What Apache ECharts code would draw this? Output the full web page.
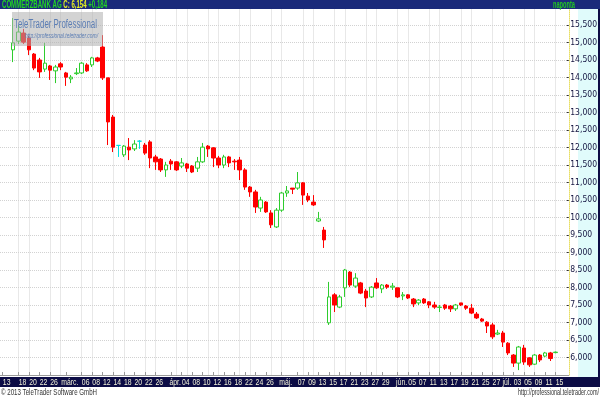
<!DOCTYPE html>
<html><head><meta charset="utf-8">
<script src="https://cdn.jsdelivr.net/npm/echarts@6/dist/echarts.min.js"></script>
<style>html,body{margin:0;padding:0;background:#fff}#c{width:600px;height:400px}</style>
</head><body><div id="c"></div>
<script>
// ---- DATA ----
const dates = [
'02-13','02-14','02-15','02-18','02-19','02-20','02-21','02-22','02-25','02-26','02-27','02-28',
'03-01','03-04','03-05','03-06','03-07','03-08','03-11','03-12','03-13','03-14','03-15','03-18','03-19','03-20','03-21','03-22','03-25','03-26','03-27','03-28',
'04-02','04-03','04-04','04-05','04-08','04-09','04-10','04-11','04-12','04-15','04-16','04-17','04-18','04-19','04-22','04-23','04-24','04-25','04-26','04-29','04-30',
'05-02','05-03','05-06','05-07','05-08','05-09','05-10','05-13','05-14','05-15','05-16','05-17','05-20','05-21','05-22','05-23','05-24','05-27','05-28','05-29','05-30','05-31',
'06-03','06-04','06-05','06-06','06-07','06-10','06-11','06-12','06-13','06-14','06-17','06-18','06-19','06-20','06-21','06-24','06-25','06-26','06-27','06-28',
'07-01','07-02','07-03','07-04','07-05','07-08','07-09','07-10','07-11','07-12','07-15','07-16','07-17'];
const firstCandleDate = '02-15';
const tickDates = ['02-13','02-18','02-20','02-22','02-26','03-01','03-06','03-08','03-12','03-14','03-18','03-20','03-22','03-26',
'04-02','04-04','04-08','04-10','04-12','04-16','04-18','04-22','04-24','04-26','05-02','05-07','05-09','05-13','05-15','05-17',
'05-21','05-23','05-27','05-29','06-03','06-05','06-07','06-11','06-13','06-17','06-19','06-21','06-25','06-27','07-01','07-03',
'07-05','07-09','07-11','07-15'];
const gridDates = ['02-18','02-20','02-26','02-28','03-06','03-08','03-14','03-18','03-22','03-26','04-03','04-05','04-11','04-15',
'04-19','04-23','04-29','05-02','05-08','05-10','05-16','05-20','05-24','05-28','06-03','06-05','06-11','06-13','06-19','06-21',
'06-27','07-01','07-05','07-09','07-15'];
const monthNames = {'03':'márc.','04':'ápr.','05':'máj.','06':'jún.','07':'júl.'};
const openP = [14.79,15.04,15.27,15.13,14.67,14.50,14.24,14.33,14.19,14.39,14.13,13.96,14.11,14.13,14.36,14.36,14.56,14.87,13.99,12.87,
12.06,11.79,12.01,11.96,12.18,12.07,12.16,11.73,11.67,11.36,11.61,11.59,11.47,11.53,11.47,11.41,11.59,12.04,11.99,11.70,
11.50,11.73,11.61,11.64,11.36,10.87,10.73,10.27,10.44,10.13,9.73,10.21,10.70,10.84,10.84,10.99,10.61,10.44,9.90,9.64,
6.99,7.79,7.44,7.99,8.44,8.04,8.13,7.90,7.73,8.13,7.96,8.07,8.01,7.99,7.76,7.79,7.67,7.56,7.67,7.59,
7.50,7.43,7.50,7.47,7.39,7.56,7.47,7.41,7.24,7.10,7.01,6.93,6.67,6.70,6.41,6.07,5.84,6.27,5.99,5.81,
6.07,6.04,6.13,6.14];
const closeP = [14.99,15.30,15.01,14.79,14.27,14.16,14.41,14.21,14.30,14.30,14.01,14.01,14.13,14.41,14.19,14.56,14.47,13.99,12.73,12.01,
12.06,12.04,11.93,12.10,12.18,11.84,11.70,11.59,11.36,11.50,11.53,11.36,11.56,11.41,11.30,11.59,12.01,11.96,11.70,11.50,
11.73,11.56,11.59,11.36,10.87,10.73,10.30,10.50,10.16,9.79,10.21,10.70,10.76,10.81,10.99,10.64,10.50,10.36,9.96,9.36,
7.73,7.50,7.73,8.50,8.07,8.27,7.84,7.70,8.01,7.99,8.07,8.01,8.04,7.73,7.79,7.70,7.53,7.64,7.56,7.50,
7.44,7.44,7.41,7.39,7.50,7.50,7.41,7.27,7.13,7.04,6.90,6.59,6.70,6.44,6.13,5.84,6.30,5.87,5.79,6.07,
5.93,6.13,5.97,6.154];
const lowP = [14.44,14.96,14.96,14.64,14.21,13.99,14.16,13.93,13.84,14.21,13.76,13.84,14.07,14.10,14.16,14.30,14.44,13.93,12.07,11.87,
11.73,11.73,11.64,11.90,11.96,11.79,11.41,11.36,11.30,11.16,11.36,11.33,11.41,11.30,11.27,11.30,11.56,11.73,11.44,11.41,
11.41,11.44,11.36,11.07,10.79,10.59,10.13,10.16,10.13,9.70,9.70,10.16,10.59,10.67,10.79,10.36,10.44,10.33,9.87,9.13,
6.93,7.30,7.41,7.73,8.01,7.99,7.81,7.44,7.70,7.96,7.84,7.96,7.93,7.70,7.64,7.67,7.44,7.50,7.53,7.41,
7.39,7.30,7.36,7.30,7.33,7.47,7.36,7.24,7.10,7.01,6.70,6.53,6.64,6.30,6.07,5.73,5.64,5.79,5.73,5.79,
5.87,6.01,5.90,6.12];
const highP = [15.70,15.50,15.39,15.19,14.70,14.56,14.99,14.36,14.36,14.44,14.16,14.07,14.27,14.44,14.41,14.59,14.59,15.21,13.99,12.93,
12.07,12.07,12.27,12.21,12.21,12.13,12.21,11.79,11.70,11.59,11.67,11.61,11.70,11.56,11.50,11.73,12.13,12.07,12.01,11.76,
11.79,11.76,11.67,11.73,11.41,10.90,10.79,10.59,10.47,10.21,10.27,10.73,10.90,10.84,11.30,11.01,10.70,10.64,10.16,9.73,
8.16,7.84,7.79,8.53,8.47,8.41,8.16,7.96,8.04,8.27,8.10,8.10,8.13,7.99,7.87,7.81,7.70,7.67,7.70,7.61,
7.59,7.50,7.53,7.50,7.53,7.56,7.50,7.53,7.30,7.13,7.04,6.99,6.79,6.76,6.44,6.10,6.33,6.36,6.01,6.10,
6.10,6.16,6.16,6.17];
const cyanDates = ['03-15','03-21'];
const yTicks = {min: 5.5, max: 16, step: 0.5};
const title = 'COMMERZBANK AG';
const period = 'naponta';
const copyright = '© 2013 TeleTrader Software GmbH';
const siteUrl = 'http://professional.teletrader.com/';
const brand = 'TeleTrader Professional';

// ---- BUILD ----
const NARROW = '"Liberation Sans Narrow","DejaVu Sans Condensed","Liberation Sans",sans-serif';
const fmt = v => v.toFixed(3).replace('.', ',');
const start = dates.indexOf(firstCandleDate);
const tickSet = new Set(tickDates);
const gridSet = new Set(gridDates);
const seriesData = openP.map((o, i) => {
  const d = dates[start + i];
  const item = {value: [d, o, closeP[i], lowP[i], highP[i]]};
  if (cyanDates.includes(d)) item.itemStyle = {color: '#00dede', color0: '#00dede', borderColor: '#00dede', borderColor0: '#00dede'};
  return item;
});
const last = closeP[closeP.length - 1], prev = closeP[closeP.length - 2];
const chg = last - prev;

const mctx = document.createElement('canvas').getContext('2d');
function fit(text, font, w) { mctx.font = font; return w / mctx.measureText(text).width; }

function xLabel(v) {
  const i = dates.indexOf(v);
  const m = v.slice(0, 2);
  if (i > 0 && dates[i - 1].slice(0, 2) !== m) return monthNames[m] || m;
  return v.slice(3);
}
const tickFn = (idx, v) => tickSet.has(v);
const gridFn = (idx, v) => gridSet.has(v);

const chart = echarts.init(document.getElementById('c'), null, {renderer: 'canvas'});
const hdrFont = 'bold 11px "Liberation Sans",sans-serif';
const chgStr = (chg >= 0 ? '+' : '') + fmt(chg);
const hdrText = title + ' C: ' + fmt(last) + ' ' + chgStr;
const wm1Font = '12px "Liberation Sans",sans-serif';
const wm2Font = 'italic 8px "Liberation Sans",sans-serif';
const ftFont = '9px "Liberation Sans",sans-serif';
const xlFont = '9px "Liberation Sans",sans-serif';

chart.setOption({
  animation: false,
  backgroundColor: '#ffffff',
  grid: {left: -4.5, right: 22, top: 7.5, bottom: 25, show: false},
  xAxis: {
    type: 'category', data: dates, boundaryGap: true,
    axisLine: {show: true, lineStyle: {color: '#9a9a9a', width: 1}},
    axisTick: {show: true, alignWithLabel: true, interval: tickFn, inside: true, length: 3, lineStyle: {color: '#9a9a9a'}},
    splitLine: {show: true, alignWithLabel: true, interval: gridFn, lineStyle: {color: '#d2d2d2', type: 'dotted'}},
    axisLabel: {show: false}
  },
  yAxis: {
    type: 'value', position: 'right', min: yTicks.min, max: yTicks.max, interval: yTicks.step,
    axisLine: {show: true, lineStyle: {color: '#e8de62', type: 'dotted'}},
    axisTick: {show: true, inside: true, length: 2, lineStyle: {color: '#333'}},
    axisLabel: {showMinLabel: false, showMaxLabel: false, margin: 1.5, fontSize: 8.5, fontFamily: NARROW, color: '#141440',
      formatter: v => fmt(v)},
    splitLine: {show: true, lineStyle: {color: '#d2d2d2', type: 'dotted'}}
  },
  series: [{
    type: 'candlestick', barWidth: 4,
    dimensions: ['date', 'open', 'close', 'low', 'high'],
    encode: {x: 0, y: [1, 2, 3, 4]},
    itemStyle: {color: '#ffffff', color0: '#ff0000', borderColor: '#2ecc2e', borderColor0: '#ff0000', borderWidth: 1},
    data: seriesData,
    markLine: {
      silent: true, symbol: ['none', 'none'], animation: false,
      lineStyle: {opacity: 0},
      label: {position: 'end', distance: 2, formatter: () => fmt(last), backgroundColor: '#ffff33', color: '#000',
        fontSize: 8.5, fontFamily: NARROW, padding: [1, 1, 0, 1]},
      data: [{yAxis: last}]
    }
  }, {
    // x-axis tick labels, placed through the category axis
    type: 'custom', silent: true, clip: false, z: 20,
    data: tickDates.map(d => [d, yTicks.min]),
    encode: {x: 0, y: 1},
    renderItem: (params, api) => {
      const p = api.coord([api.value(0), yTicks.min]);
      const txt = xLabel(tickDates[params.dataIndex]);
      return {type: 'text', x: p[0] + 4, y: p[1] + 7.5, scaleX: 0.76,
        style: {text: txt, font: xlFont, fill: '#f2f2d8', align: 'center', verticalAlign: 'middle'}};
    }
  }],
  graphic: [
    {type: 'rect', z: -10, shape: {x: 578, y: 8, width: 22, height: 370}, style: {fill: '#e0fbfb'}},
    {type: 'rect', z: -10, shape: {x: 598, y: 8, width: 2, height: 370}, style: {fill: '#0c0c45'}},
    {type: 'rect', z: -10, shape: {x: 0, y: 377, width: 600, height: 10}, style: {fill: '#0c0c45'}},
    {type: 'rect', z: 50, shape: {x: 0, y: 0, width: 600, height: 9}, style: {fill: '#1a2a7a'}},
    {type: 'text', z: 51, x: 2, y: -1, scaleX: fit(hdrText, hdrFont, 105),
      style: {text: '{a|' + title + '} {b|C: ' + fmt(last) + '} {a|' + chgStr + '}',
        font: hdrFont, rich: {a: {fill: '#22d622', font: hdrFont}, b: {fill: '#e6f020', font: hdrFont}}}},
    {type: 'text', z: 51, x: 553, y: -1, scaleX: fit(period, hdrFont, 22),
      style: {text: period, font: hdrFont, fill: '#22c822'}},
    {type: 'rect', z: 60, shape: {x: 12, y: 12, width: 91, height: 34}, style: {fill: 'rgba(175,175,175,0.55)'}},
    {type: 'text', z: 61, x: 14, y: 18.5, scaleX: fit(brand, wm1Font, 83),
      style: {text: brand, font: wm1Font, fill: '#5b7db4'}},
    {type: 'text', z: 61, x: 25, y: 32, scaleX: fit(siteUrl, wm2Font, 73),
      style: {text: siteUrl, font: wm2Font, fill: '#5b7db4'}},
    {type: 'text', z: 10, x: 1, y: 388.5, scaleX: fit(copyright, ftFont, 96),
      style: {text: copyright, font: ftFont, fill: '#333'}},
    {type: 'text', z: 10, x: 518, y: 388.5, scaleX: fit(siteUrl, ftFont, 81),
      style: {text: siteUrl, font: ftFont, fill: '#333'}}
  ]
});
</script></body></html>
